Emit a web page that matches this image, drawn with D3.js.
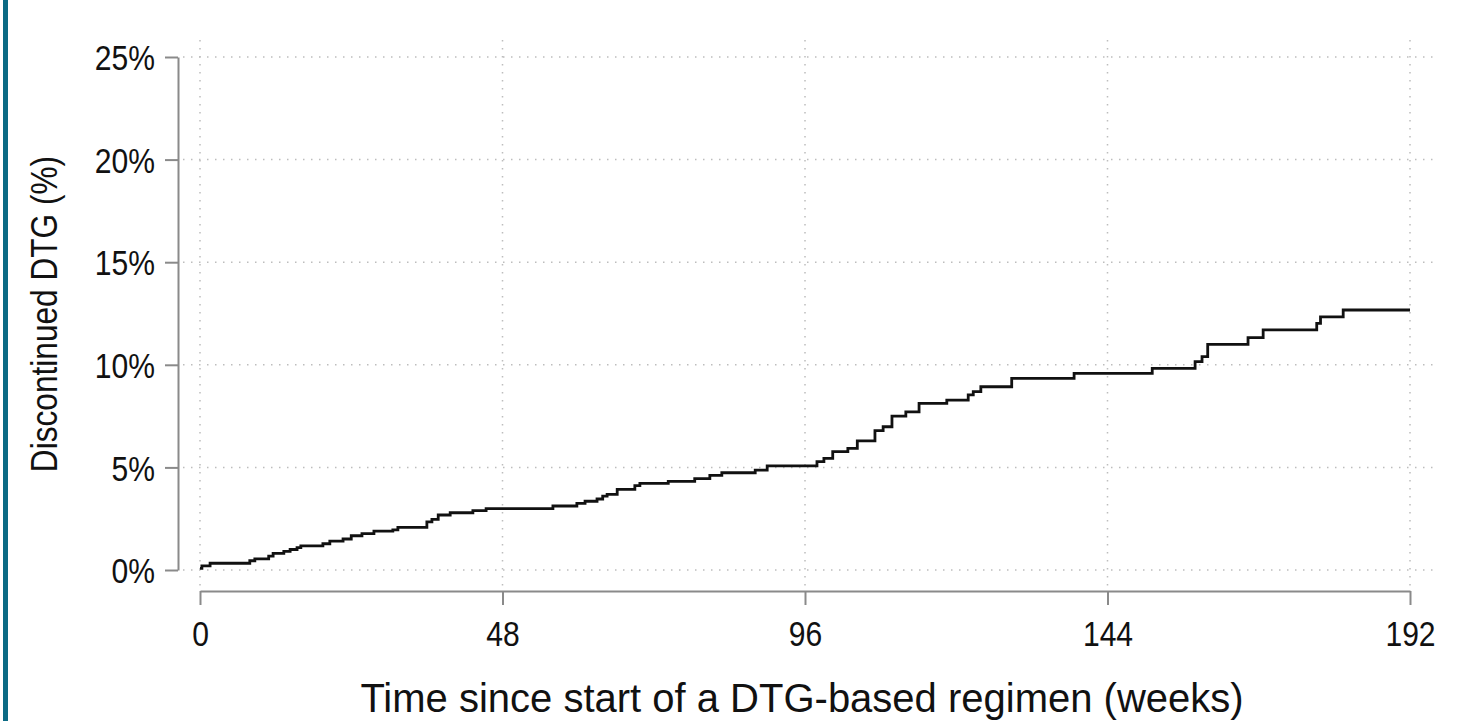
<!DOCTYPE html>
<html>
<head>
<meta charset="utf-8">
<script src="https://cdn.jsdelivr.net/npm/d3@7"></script>
<style>
  body { margin: 0; background: #ffffff; }
  text { font-family: "Liberation Sans", Arial, sans-serif; fill: #111; }
</style>
</head>
<body>
<script>
// step times (weeks) and cumulative discontinuation (%)
var weeks = [0, 0.3, 1.6, 7.9, 8.7, 10.9, 11.6, 13.3, 14.3, 15.4, 16.0, 19.5, 20.6, 22.7, 24.0,
  25.7, 27.6, 30.6, 31.4, 36.0, 36.8, 37.8, 39.7, 43.3, 45.4, 56.0, 59.8, 61.1, 63.0, 63.9,
  64.6, 66.2, 69.0, 69.8, 74.3, 78.5, 80.9, 82.8, 88.1, 90.0, 97.9, 99.0, 100.4, 102.8, 104.3,
  107.1, 108.4, 109.8, 112.0, 114.1, 118.5, 121.9, 122.7, 123.9, 128.8, 138.7, 151.1, 157.9,
  159.0, 159.9, 166.3, 168.7, 177.2, 177.8, 181.4, 192];
var discontinued = [0.08, 0.2, 0.33, 0.45, 0.54, 0.68, 0.81, 0.91, 1.0, 1.09, 1.18, 1.28, 1.41, 1.51, 1.67,
  1.77, 1.89, 1.96, 2.08, 2.35, 2.47, 2.68, 2.79, 2.89, 2.99, 3.12, 3.25, 3.35, 3.46, 3.6,
  3.69, 3.93, 4.11, 4.22, 4.32, 4.45, 4.61, 4.74, 4.87, 5.07, 5.28, 5.44, 5.77, 5.93, 6.29,
  6.79, 6.98, 7.5, 7.71, 8.12, 8.28, 8.53, 8.69, 8.93, 9.34, 9.58, 9.83, 10.15,
  10.4, 11.0, 11.32, 11.7, 12.02, 12.34, 12.67, 12.67];

var x_ticks = [0, 48, 96, 144, 192];
var y_ticks = [0, 5, 10, 15, 20, 25];

var w = 1470, h = 721;
// the original text is a bit condensed
var squeeze = 0.86;

var svg = d3.select("body").append("svg")
  .attr("width", w)
  .attr("height", h);

// teal strip on the left edge
svg.append("rect")
  .attr("x", 3).attr("y", 0)
  .attr("width", 5).attr("height", h)
  .style("fill", "#0b6a84");

var x = d3.scaleLinear().domain([0, 192]).range([200, 1410]);
var y = d3.scaleLinear().domain([0, 25]).range([570, 57]);

// dotted grid
svg.append("g").selectAll("line")
  .data(y_ticks)
  .enter()
  .append("line")
  .attr("x1", 183).attr("x2", 1436)
  .attr("y1", function(d){ return y(d); })
  .attr("y2", function(d){ return y(d); })
  .style("stroke", "#bdbdbd")
  .style("stroke-width", 1.5)
  .style("stroke-dasharray", "1.5,6.5");

svg.append("g").selectAll("line")
  .data(x_ticks)
  .enter()
  .append("line")
  .attr("x1", function(d){ return x(d); })
  .attr("x2", function(d){ return x(d); })
  .attr("y1", 40).attr("y2", 586)
  .style("stroke", "#bdbdbd")
  .style("stroke-width", 1.5)
  .style("stroke-dasharray", "1.5,6.5");

// y axis
var yAxis = d3.axisLeft(y)
  .tickValues(y_ticks)
  .tickSize(13)
  .tickSizeOuter(0)
  .tickFormat(function(d){ return d + "%"; });

var gy = svg.append("g")
  .attr("transform", "translate(178,0)")
  .call(yAxis);
gy.select(".domain").style("stroke", "#8a8a8a").style("stroke-width", 2);
gy.selectAll(".tick line").style("stroke", "#8a8a8a").style("stroke-width", 2);
gy.selectAll(".tick text")
  .attr("x", 0)
  .attr("dy", "0.36em")
  .attr("transform", "translate(-23,0) scale(" + squeeze + ",1)")
  .style("font-size", "35px")
  .style("fill", "#111");

// x axis
var xAxis = d3.axisBottom(x)
  .tickValues(x_ticks)
  .tickSize(14)
  .tickSizeOuter(0)
  .tickPadding(16);

var gx = svg.append("g")
  .attr("transform", "translate(0,591)")
  .call(xAxis);
gx.select(".domain").style("stroke", "#8a8a8a").style("stroke-width", 2);
gx.selectAll(".tick line").style("stroke", "#8a8a8a").style("stroke-width", 2);
gx.selectAll(".tick text")
  .attr("transform", "scale(" + squeeze + ",1)")
  .style("font-size", "35px")
  .style("fill", "#111");

// axis titles
svg.append("text")
  .attr("x", 802)
  .attr("y", 712)
  .attr("text-anchor", "middle")
  .style("font-size", "40px")
  .text("Time since start of a DTG-based regimen (weeks)");

svg.append("text")
  .attr("transform", "translate(57,314) rotate(-90) scale(0.855,1)")
  .attr("text-anchor", "middle")
  .style("font-size", "37px")
  .text("Discontinued DTG (%)");

// step curve
var pts = weeks.map(function(d, i){ return [d, discontinued[i]]; });
var line = d3.line()
  .x(function(d){ return x(d[0]); })
  .y(function(d){ return y(d[1]); })
  .curve(d3.curveStepAfter);

svg.append("path")
  .datum(pts)
  .attr("d", line)
  .style("fill", "none")
  .style("stroke", "#111")
  .style("stroke-width", 2.8);
</script>
</body>
</html>
